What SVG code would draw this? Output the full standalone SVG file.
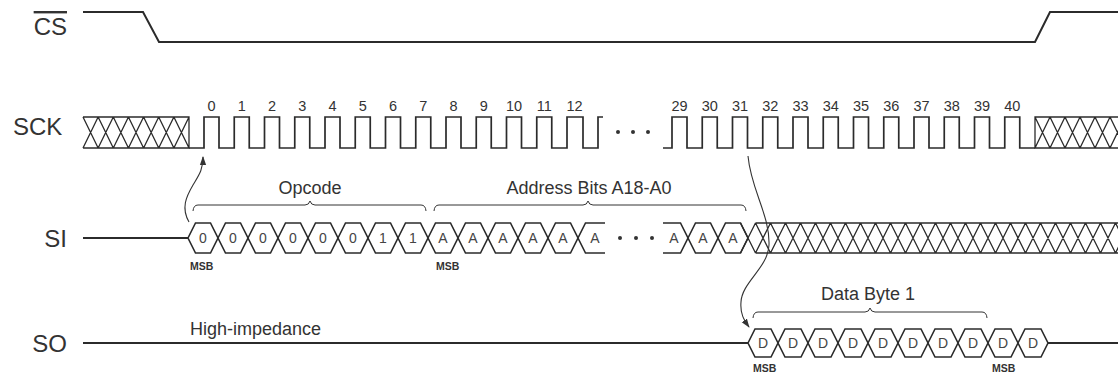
<svg xmlns="http://www.w3.org/2000/svg" width="1118" height="377" viewBox="0 0 1118 377">
<style>
.lbl{font-family:"Liberation Sans",Arial,sans-serif;font-size:24px;fill:#333}
.num{font-family:"Liberation Sans",Arial,sans-serif;font-size:14.5px;fill:#333;text-anchor:middle}
.cap{font-family:"Liberation Sans",Arial,sans-serif;font-size:18px;fill:#333}
.bit{font-family:"Liberation Sans",Arial,sans-serif;font-size:14px;fill:#444;text-anchor:middle}
.msb{font-family:"Liberation Sans",Arial,sans-serif;font-size:10.5px;font-weight:bold;fill:#333}
.sig{fill:none;stroke:#2b2b2b;stroke-width:2}
.clk{fill:none;stroke:#2b2b2b;stroke-width:1.7}
.hex{fill:none;stroke:#2b2b2b;stroke-width:1.6}
.hat{fill:none;stroke:#2b2b2b;stroke-width:1.3}
.brc{fill:none;stroke:#333;stroke-width:1}
.con{fill:none;stroke:#333;stroke-width:1.1}
</style>
<defs>
<path id="hx" d="M0,0 L7.5,-15 L22.5,-15 L30,0 L22.5,15 L7.5,15 Z"/>
<path id="hxo" d="M0,0 L7,-14 L23,-14 L30,0 L23,14 L7,14 Z"/>
<marker id="ah" viewBox="0 0 10 10" refX="9" refY="5" markerWidth="9" markerHeight="9" orient="auto" markerUnits="userSpaceOnUse">
<path d="M0,1.5 L10,5 L0,8.5 Z" fill="#333"/>
</marker>
</defs>
<rect width="1118" height="377" fill="#fff"/>

<g id="cs">
<text class="lbl" x="67" y="35" text-anchor="end" text-decoration="overline">CS</text>
<path class="sig" d="M83,12 H143 L159,42 H1035 L1050,12 H1118"/>
</g>

<g id="sck">
<text class="lbl" x="13" y="135">SCK</text>
<path class="hat" d="M83,117 H189 V148 H83 M83,117 L98.14,148 M83,148 L98.14,117 M98.14,117 L113.29,148 M98.14,148 L113.29,117 M113.29,117 L128.43,148 M113.29,148 L128.43,117 M128.43,117 L143.57,148 M128.43,148 L143.57,117 M143.57,117 L158.71,148 M143.57,148 L158.71,117 M158.71,117 L173.86,148 M158.71,148 L173.86,117 M173.86,117 L189,148 M173.86,148 L189,117"/>
<path class="clk" d="M189,148 H204 V117 H219 V148 H234.25 V117 H249.25 V148 H264.5 V117 H279.5 V148 H294.75 V117 H309.75 V148 H325 V117 H340 V148 H355.25 V117 H370.25 V148 H385.5 V117 H400.5 V148 H415.75 V117 H430.75 V148 H446 V117 H461 V148 H476.25 V117 H491.25 V148 H506.5 V117 H521.5 V148 H536.75 V117 H551.75 V148 H567 V117 H583 V148 H598 V117 H603"/>
<circle cx="618" cy="132" r="2" fill="#333"/>
<circle cx="633" cy="132" r="2" fill="#333"/>
<circle cx="648" cy="132" r="2" fill="#333"/>
<path class="clk" d="M663,148 H672 V117 H687 V148 H702.25 V117 H717.25 V148 H732.5 V117 H747.5 V148 H762.75 V117 H777.75 V148 H793 V117 H808 V148 H823.25 V117 H838.25 V148 H853.5 V117 H868.5 V148 H883.75 V117 H898.75 V148 H914 V117 H929 V148 H944.25 V117 H959.25 V148 H974.5 V117 H989.5 V148 H1004.75 V117 H1019.75 V148 H1035"/>
<path class="hat" d="M1120,117 H1035 V148 H1120 M1035,117 L1050,148 M1035,148 L1050,117 M1050,117 L1065,148 M1050,148 L1065,117 M1065,117 L1080,148 M1065,148 L1080,117 M1080,117 L1095,148 M1080,148 L1095,117 M1095,117 L1110,148 M1095,148 L1110,117 M1110,117 L1125,148 M1110,148 L1125,117"/>
<g class="num">
<text x="211.5" y="111">0</text><text x="241.75" y="111">1</text><text x="272" y="111">2</text><text x="302.25" y="111">3</text><text x="332.5" y="111">4</text><text x="362.75" y="111">5</text><text x="393" y="111">6</text><text x="423.25" y="111">7</text><text x="453.5" y="111">8</text><text x="483.75" y="111">9</text><text x="514" y="111">10</text><text x="544.25" y="111">11</text><text x="574.5" y="111">12</text>
<text x="679.5" y="111">29</text><text x="709.75" y="111">30</text><text x="740" y="111">31</text><text x="770.25" y="111">32</text><text x="800.5" y="111">33</text><text x="830.75" y="111">34</text><text x="861" y="111">35</text><text x="891.25" y="111">36</text><text x="921.5" y="111">37</text><text x="951.75" y="111">38</text><text x="982" y="111">39</text><text x="1012.25" y="111">40</text>
</g>
</g>

<g id="si">
<text class="lbl" x="67" y="247" text-anchor="end">SI</text>
<path class="sig" d="M83,238 H188"/>
<g class="hex">
<use href="#hx" x="188" y="238"/><use href="#hx" x="218" y="238"/><use href="#hx" x="248" y="238"/><use href="#hx" x="278" y="238"/><use href="#hx" x="308" y="238"/><use href="#hx" x="338" y="238"/><use href="#hx" x="368" y="238"/><use href="#hx" x="398" y="238"/><use href="#hx" x="428" y="238"/><use href="#hx" x="458" y="238"/><use href="#hx" x="488" y="238"/><use href="#hx" x="518" y="238"/><use href="#hx" x="548" y="238"/>
<path d="M605,223 H585.5 L578,238 L585.5,253 H605"/>
<path d="M663,223 H680.5 L688,238 L680.5,253 H663"/>
<use href="#hx" x="688" y="238"/><use href="#hx" x="718" y="238"/>
</g>
<circle cx="620" cy="238" r="2" fill="#333"/>
<circle cx="636" cy="238" r="2" fill="#333"/>
<circle cx="652" cy="238" r="2" fill="#333"/>
<path class="hat" d="M755.5,223 H1120 M755.5,253 H1120 M740.5,223 L755.5,253 M740.5,253 L755.5,223 M755.5,223 L770.5,253 M755.5,253 L770.5,223 M770.5,223 L785.5,253 M770.5,253 L785.5,223 M785.5,223 L800.5,253 M785.5,253 L800.5,223 M800.5,223 L815.5,253 M800.5,253 L815.5,223 M815.5,223 L830.5,253 M815.5,253 L830.5,223 M830.5,223 L845.5,253 M830.5,253 L845.5,223 M845.5,223 L860.5,253 M845.5,253 L860.5,223 M860.5,223 L875.5,253 M860.5,253 L875.5,223 M875.5,223 L890.5,253 M875.5,253 L890.5,223 M890.5,223 L905.5,253 M890.5,253 L905.5,223 M905.5,223 L920.5,253 M905.5,253 L920.5,223 M920.5,223 L935.5,253 M920.5,253 L935.5,223 M935.5,223 L950.5,253 M935.5,253 L950.5,223 M950.5,223 L965.5,253 M950.5,253 L965.5,223 M965.5,223 L980.5,253 M965.5,253 L980.5,223 M980.5,223 L995.5,253 M980.5,253 L995.5,223 M995.5,223 L1010.5,253 M995.5,253 L1010.5,223 M1010.5,223 L1025.5,253 M1010.5,253 L1025.5,223 M1025.5,223 L1040.5,253 M1025.5,253 L1040.5,223 M1040.5,223 L1055.5,253 M1040.5,253 L1055.5,223 M1055.5,223 L1070.5,253 M1055.5,253 L1070.5,223 M1070.5,223 L1085.5,253 M1070.5,253 L1085.5,223 M1085.5,223 L1100.5,253 M1085.5,253 L1100.5,223 M1100.5,223 L1115.5,253 M1100.5,253 L1115.5,223 M1115.5,223 L1130.5,253 M1115.5,253 L1130.5,223"/>
<g class="bit">
<text x="203" y="243">0</text><text x="233" y="243">0</text><text x="263" y="243">0</text><text x="293" y="243">0</text><text x="323" y="243">0</text><text x="353" y="243">0</text><text x="383" y="243">1</text><text x="413" y="243">1</text>
<text x="443" y="243">A</text><text x="473" y="243">A</text><text x="503" y="243">A</text><text x="533" y="243">A</text><text x="563" y="243">A</text><text x="595" y="243">A</text>
<text x="674" y="243">A</text><text x="703" y="243">A</text><text x="733" y="243">A</text>
</g>
<text class="msb" x="190" y="270">MSB</text>
<text class="msb" x="436" y="270">MSB</text>
</g>

<g id="so">
<text class="lbl" x="67" y="352" text-anchor="end">SO</text>
<path class="sig" d="M83,343 H748 M1048,343 H1118"/>
<text class="cap" x="190" y="335">High-impedance</text>
<g class="hex">
<use href="#hxo" x="748" y="343"/><use href="#hxo" x="778" y="343"/><use href="#hxo" x="808" y="343"/><use href="#hxo" x="838" y="343"/><use href="#hxo" x="868" y="343"/><use href="#hxo" x="898" y="343"/><use href="#hxo" x="928" y="343"/><use href="#hxo" x="958" y="343"/><use href="#hxo" x="988" y="343"/><use href="#hxo" x="1018" y="343"/>
</g>
<g class="bit">
<text x="763" y="348">D</text><text x="793" y="348">D</text><text x="823" y="348">D</text><text x="853" y="348">D</text><text x="883" y="348">D</text><text x="913" y="348">D</text><text x="943" y="348">D</text><text x="973" y="348">D</text><text x="1003" y="348">D</text><text x="1033" y="348">D</text>
</g>
<text class="msb" x="753" y="372">MSB</text>
<text class="msb" x="992" y="372">MSB</text>
</g>

<g id="opcode-brace">
<path class="brc" d="M193,211 Q193.5,205 198,205 H305 Q309,205 310,201 Q311,205 315,205 H421 Q425.5,205 426,211"/>
<text class="cap" x="310" y="194" text-anchor="middle">Opcode</text>
</g>
<g id="address-brace">
<path class="brc" d="M434,211 Q434.5,205 439,205 H583 Q587,205 588,201 Q589,205 593,205 H741 Q745.5,205 746,211"/>
<text class="cap" x="589" y="194" text-anchor="middle">Address Bits A18-A0</text>
</g>
<g id="data-brace">
<path class="brc" d="M753,318 Q753.5,312 758,312 H865 Q869,312 870,308 Q871,312 875,312 H982 Q986.5,312 987,318"/>
<text class="cap" x="868" y="300" text-anchor="middle">Data Byte 1</text>
</g>

<g id="connectors">
<path class="con" marker-end="url(#ah)" d="M189,222 C181,208 186,197 193,185 C199,175 203,170 203,157"/>
<path class="con" marker-end="url(#ah)" d="M748,156 C751,190 770,215 769,245 C768,268 742,282 741,302 C740,314 744,320 749,327"/>
</g>
</svg>
